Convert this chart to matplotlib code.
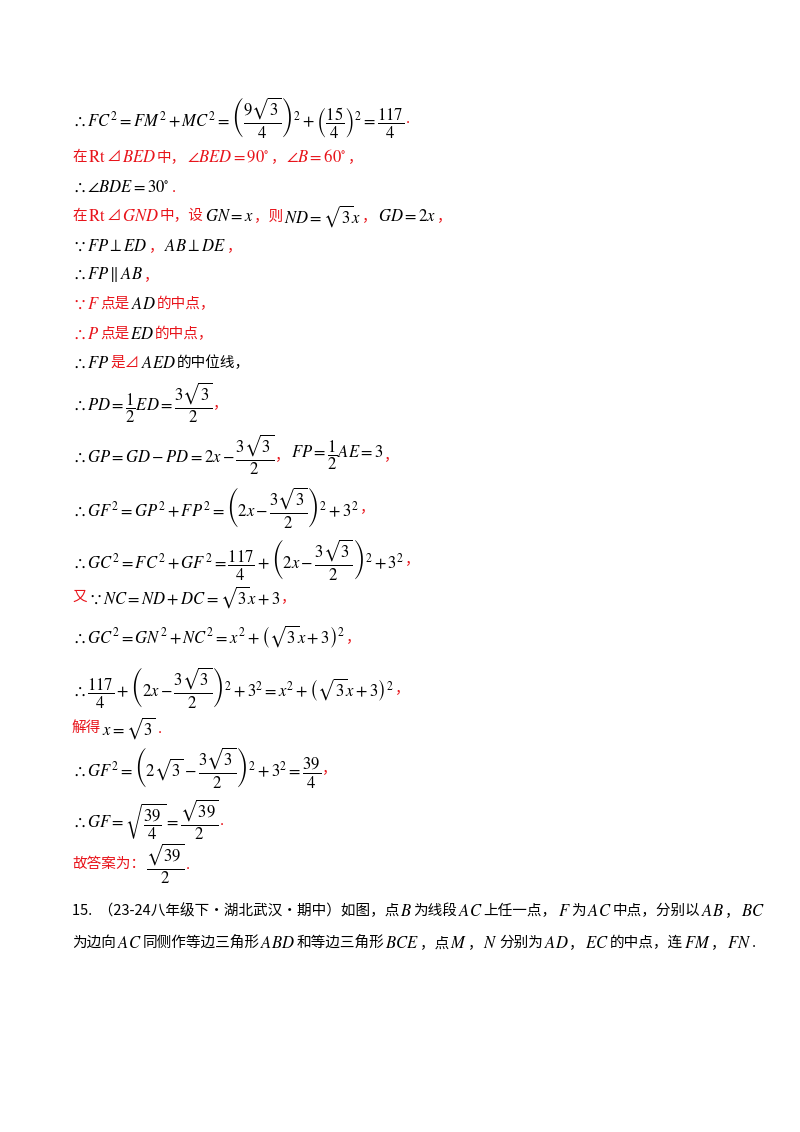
import matplotlib
matplotlib.use("Agg")
import matplotlib.pyplot as plt

plt.rcParams['mathtext.fontset'] = 'stix'
R = '#e8141b'
K = 'black'

# Each line: (y pixel from top, [ (kind, text, color) ... ]); kind 'm' = math, 'c' = CJK text
line_ys = [118, 157, 187, 216, 246, 275, 304, 334, 363, 403, 455, 507, 559, 597, 637, 688, 728, 768, 820, 864, 911, 943]
line_segs = [
    [('m', r'$\therefore FC^2=FM^2+MC^2=\left(\dfrac{9\sqrt{3}}{4}\right)^2+\left(\dfrac{15}{4}\right)^2=\dfrac{117}{4}$', K), ('m', r'$.$', R)],
    [('c', '在', R), ('m', r'$\mathrm{Rt}$', R), ('c', '⊿', R), ('m', r'$BED$', R), ('c', '中，', R), ('m', r'$\angle BED=90^{\circ}$', R), ('c', '，', R), ('m', r'$\angle B=60^{\circ}$', R), ('c', '，', R)],
    [('m', r'$\therefore\angle BDE=30^{\circ}$', K), ('m', r'$.$', R)],
    [('c', '在', R), ('m', r'$\mathrm{Rt}$', R), ('c', '⊿', R), ('m', r'$GND$', R), ('c', '中，设', R), ('m', r'$GN=x$', K), ('c', '，则', R), ('m', r'$ND=\sqrt{3}x$', K), ('c', '，', R), ('m', r'$GD=2x$', K), ('c', '，', R)],
    [('m', r'$\because FP\perp ED$', K), ('c', '，', R), ('m', r'$AB\perp DE$', K), ('c', '，', R)],
    [('m', r'$\therefore FP\parallel AB$', K), ('c', '，', R)],
    [('m', r'$\because F$', R), ('c', '点是', R), ('m', r'$AD$', K), ('c', '的中点，', R)],
    [('m', r'$\therefore P$', R), ('c', '点是', R), ('m', r'$ED$', K), ('c', '的中点，', R)],
    [('m', r'$\therefore FP$', K), ('c', '是⊿', R), ('m', r'$AED$', K), ('c', '的中位线，', K)],
    [('m', r'$\therefore PD=\dfrac{1}{2}ED=\dfrac{3\sqrt{3}}{2}$', K), ('c', '，', R)],
    [('m', r'$\therefore GP=GD-PD=2x-\dfrac{3\sqrt{3}}{2}$', K), ('c', '，', R), ('m', r'$FP=\dfrac{1}{2}AE=3$', K), ('c', '，', R)],
    [('m', r'$\therefore GF^2=GP^2+FP^2=\left(2x-\dfrac{3\sqrt{3}}{2}\right)^2+3^2$', K), ('c', '，', R)],
    [('m', r'$\therefore GC^2=FC^2+GF^2=\dfrac{117}{4}+\left(2x-\dfrac{3\sqrt{3}}{2}\right)^2+3^2$', K), ('c', '，', R)],
    [('c', '又', R), ('m', r'$\because NC=ND+DC=\sqrt{3}x+3$', K), ('c', '，', R)],
    [('m', r'$\therefore GC^2=GN^2+NC^2=x^2+\left(\sqrt{3}x+3\right)^2$', K), ('c', '，', R)],
    [('m', r'$\therefore\dfrac{117}{4}+\left(2x-\dfrac{3\sqrt{3}}{2}\right)^2+3^2=x^2+\left(\sqrt{3}x+3\right)^2$', K), ('c', '，', R)],
    [('c', '解得', R), ('m', r'$x=\sqrt{3}$', K), ('m', r'$.$', R)],
    [('m', r'$\therefore GF^2=\left(2\sqrt{3}-\dfrac{3\sqrt{3}}{2}\right)^2+3^2=\dfrac{39}{4}$', K), ('c', '，', R)],
    [('m', r'$\therefore GF=\sqrt{\dfrac{39}{4}}=\dfrac{\sqrt{39}}{2}$', K), ('m', r'$.$', R)],
    [('c', '故答案为：', R), ('m', r'$\dfrac{\sqrt{39}}{2}$', K), ('m', r'$.$', R)],
    [('c', '15.  （23-24八年级下·湖北武汉·期中）如图，点', K), ('m', r'$B$', K), ('c', '为线段', K), ('m', r'$AC$', K), ('c', '上任一点，', K), ('m', r'$F$', K), ('c', '为', K), ('m', r'$AC$', K), ('c', '中点，分别以', K), ('m', r'$AB$', K), ('c', '，', K), ('m', r'$BC$', K)],
    [('c', '为边向', K), ('m', r'$AC$', K), ('c', '同侧作等边三角形', K), ('m', r'$ABD$', K), ('c', '和等边三角形', K), ('m', r'$BCE$', K), ('c', '，点', K), ('m', r'$M$', K), ('c', '，', K), ('m', r'$N$', K), ('c', '分别为', K), ('m', r'$AD$', K), ('c', '，', K), ('m', r'$EC$', K), ('c', '的中点，连', K), ('m', r'$FM$', K), ('c', '，', K), ('m', r'$FN$', K), ('c', '.', K)],
]

W, H = 800, 1132
fig = plt.figure(figsize=(W / 100, H / 100), dpi=100)
fig.patch.set_facecolor('white')
renderer = fig.canvas.get_renderer()
X0 = 72
for y, segs in zip(line_ys, line_segs):
    x = X0
    for kind, txt, col in segs:
        if kind == 'c':
            t = fig.text(x / W, 1 - y / H, txt, color=col, fontsize=10.5, va='center', ha='left',
                         family=['Noto Sans CJK SC', 'DejaVu Sans'])
        else:
            t = fig.text(x / W, 1 - y / H, txt, color=col, fontsize=12, va='center', ha='left')
        bb = t.get_window_extent(renderer)
        x += bb.width + 1
fig.savefig('out.png', dpi=100, facecolor='white')
